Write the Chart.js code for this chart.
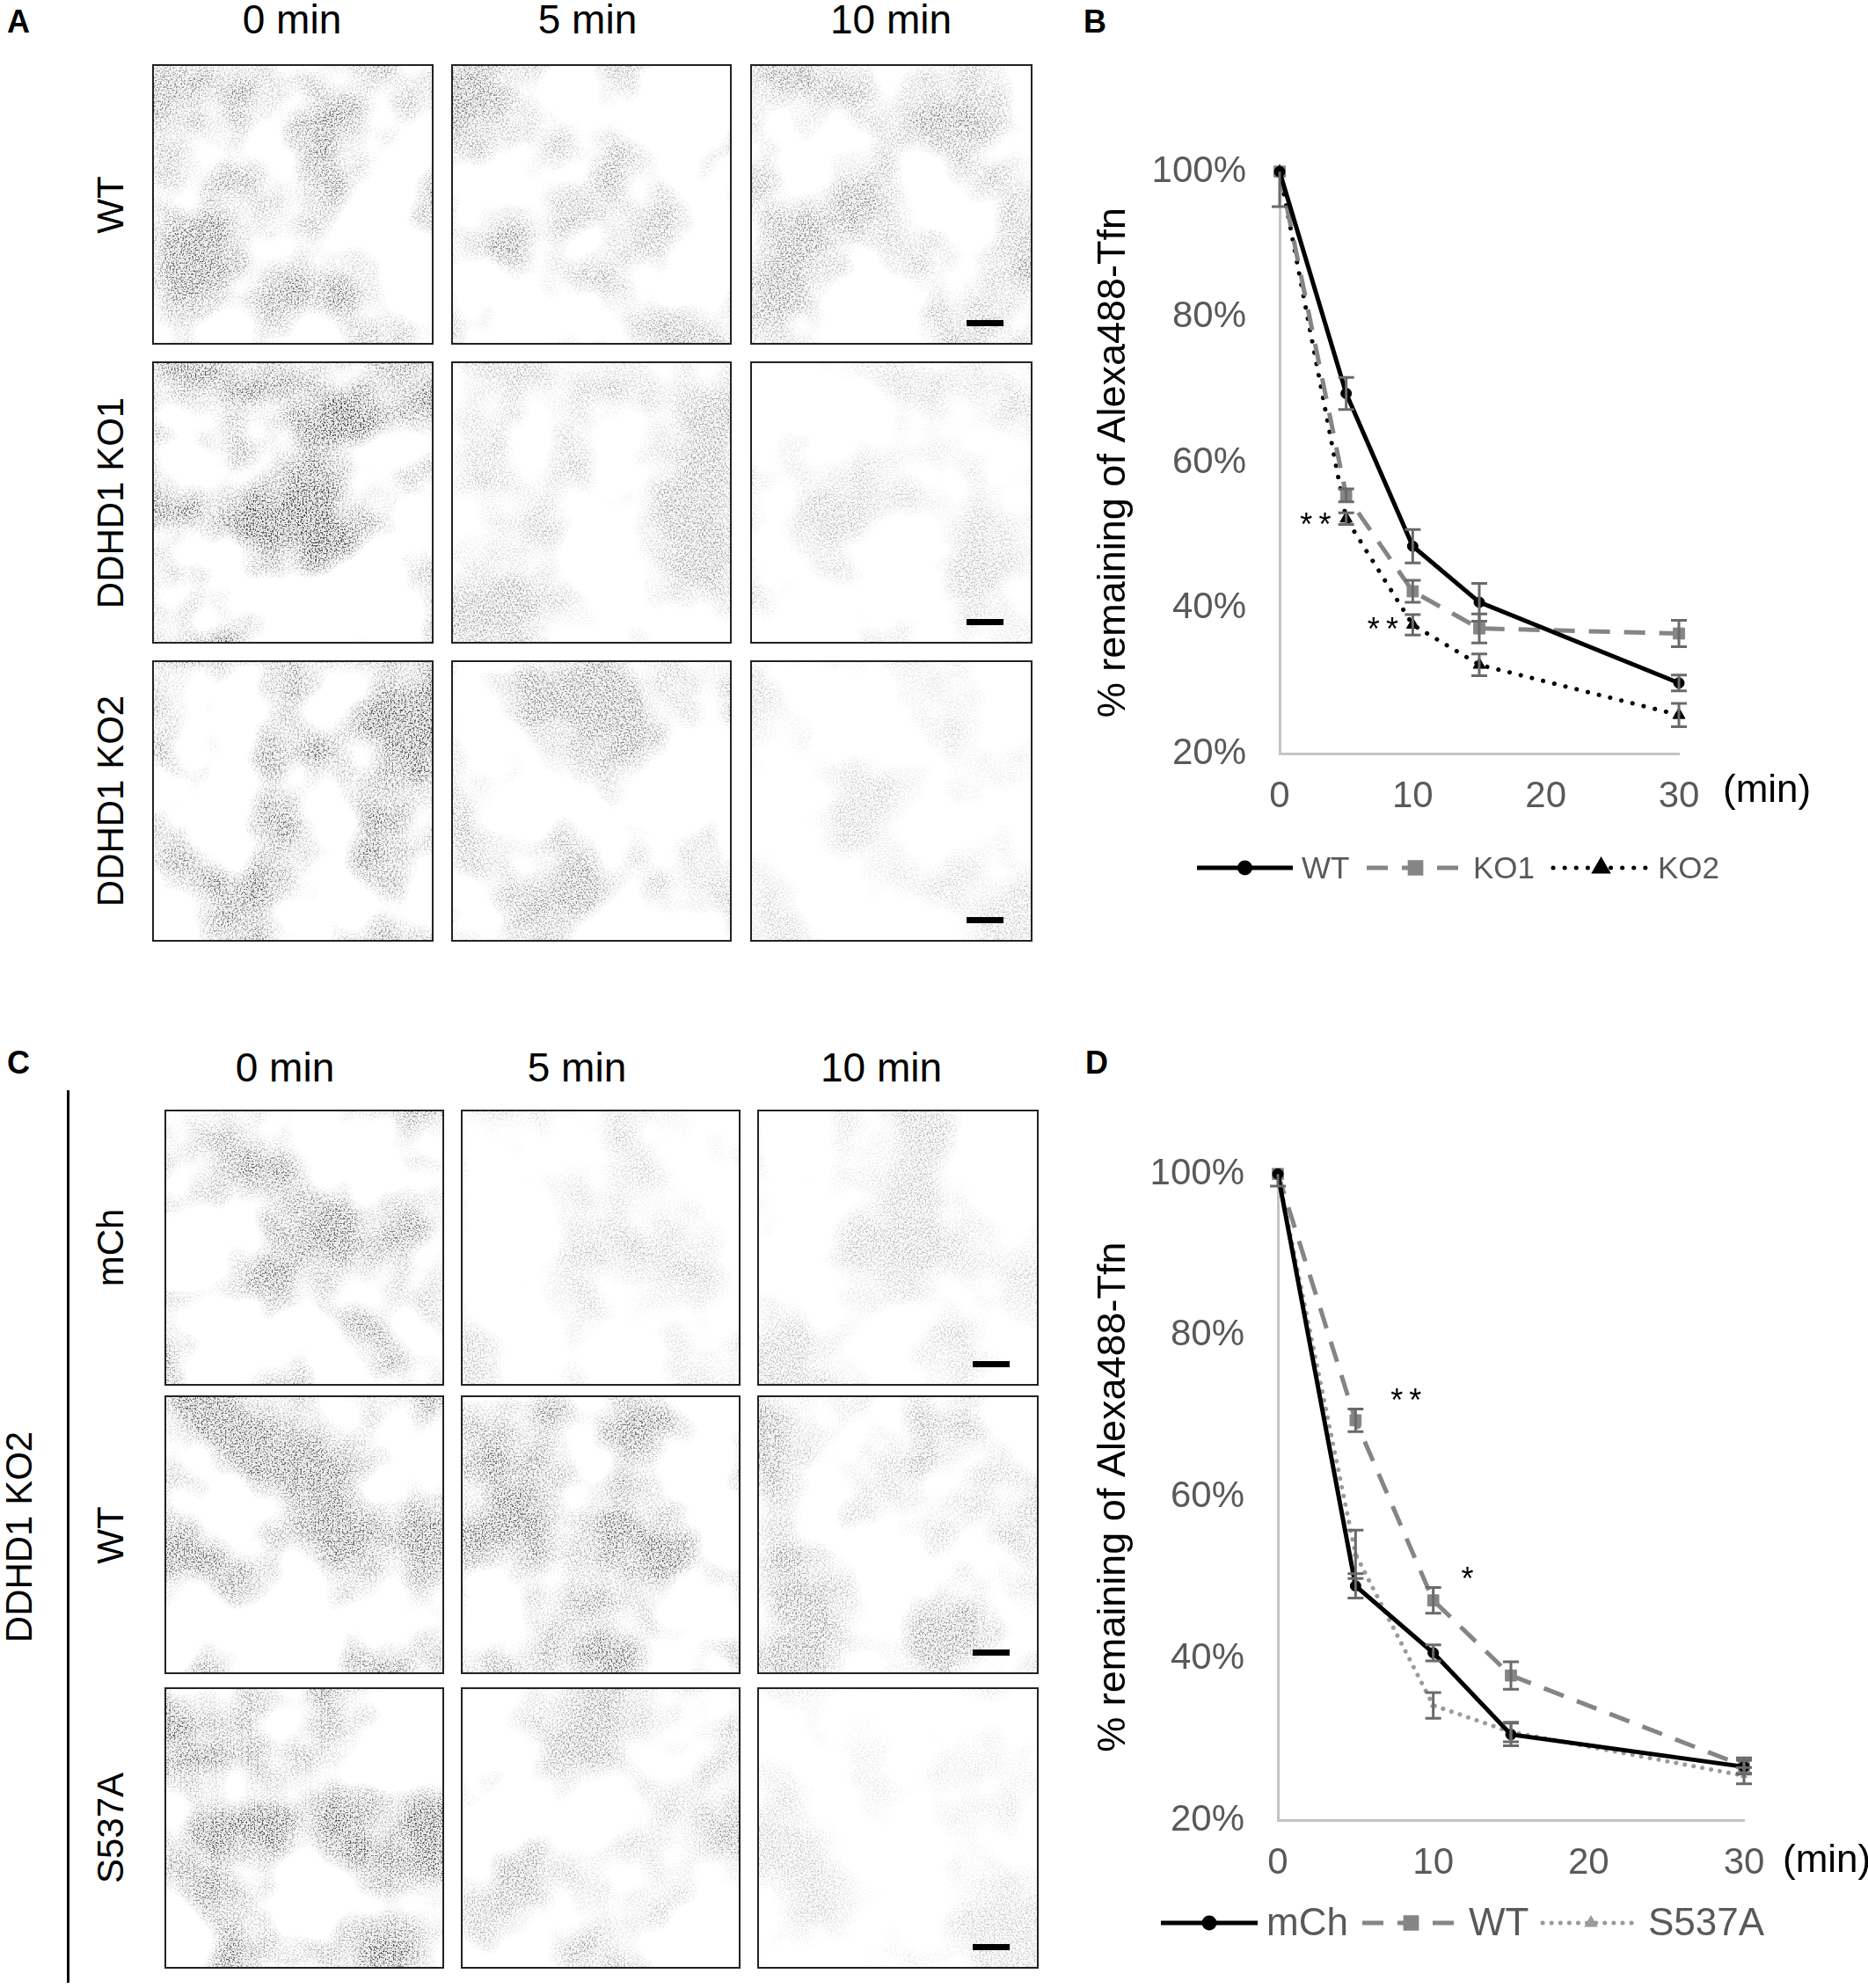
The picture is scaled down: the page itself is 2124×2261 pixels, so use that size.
<!DOCTYPE html>
<html>
<head>
<meta charset="utf-8">
<script src="https://cdn.jsdelivr.net/npm/chart.js@4.4.1/dist/chart.umd.min.js"></script>
<style>
  html, body { margin: 0; padding: 0; background: #fff; }
  body { width: 2124px; height: 2261px; position: relative; overflow: hidden;
         font-family: "Liberation Sans", Arial, Helvetica, sans-serif; color: #000; }
  .abs { position: absolute; }
  .letter { font-weight: bold; font-size: 36px; }
  .head { font-size: 46px; transform: translate(-50%, -50%); white-space: nowrap; }
  .rowlab { font-size: 42px; white-space: nowrap; transform: translate(-50%, -50%) rotate(-90deg); }
  .frame { border: 2px solid #222; overflow: hidden; background: #fff; box-sizing: border-box; }
  .bar { background: #000; width: 42px; height: 7px; }
  canvas { position: absolute; }
</style>
</head>
<body>

<div class="abs letter" style="left:8px;top:4px">A</div>
<div class="abs letter" style="left:1232px;top:4px">B</div>
<div class="abs letter" style="left:8px;top:1188px">C</div>
<div class="abs letter" style="left:1234px;top:1188px">D</div>

<div id="figA"></div>
<div id="figC"></div>

<canvas id="chartB" width="884" height="880" style="left:1240px;top:140px;width:884px;height:880px"></canvas>
<canvas id="chartD" width="884" height="981" style="left:1240px;top:1280px;width:884px;height:981px"></canvas>

<script>
// ---- data: time points (min) ----
const timeMin = [0, 5, 10, 15, 30];

// panel B: % remaining of Alexa488-Tfn
const wtB = [100, 69.5, 48.5, 40.8, 29.7];
const wtBErr = [0, 2.2, 2.3, 2.6, 1.1];
const ko1B = [100, 55.5, 42.3, 37.2, 36.5];
const ko1BErr = [4.8, 0.9, 1.5, 2.0, 1.8];
const ko2B = [100, 52.3, 37.7, 32.2, 25.3];
const ko2BErr = [0, 0.8, 1.4, 1.5, 1.6];

// panel D: rescue in DDHD1 KO2
const mChD = [100, 49.0, 40.7, 30.6, 26.6];
const mChDErr = [0, 1.5, 1.0, 1.4, 0.8];
const wtD = [100, 69.5, 47.2, 37.9, 26.7];
const wtDErr = [1.5, 1.4, 1.6, 1.7, 1.0];
const s537aD = [100, 52.9, 34.2, 30.9, 25.5];
const s537aDErr = [0, 3.0, 1.6, 1.2, 1.0];

// significance marks (x in min, y in %)
const starsB = [{x: 2.7, y: 51.2, t: '**'}, {x: 7.75, y: 36.8, t: '**'}];
const starsD = [{x: 8.25, y: 71.7, t: '**'}, {x: 12.2, y: 49.6, t: '*'}];

// axis ticks
const yTicks = [20, 40, 60, 80, 100];
const xTicks = [0, 10, 20, 30];

// image panel labels
const timeHeads = ['0 min', '5 min', '10 min'];
const rowsA = ['WT', 'DDHD1 KO1', 'DDHD1 KO2'];
const rowsC = ['mCh', 'WT', 'S537A'];

// ---- micrograph placeholders (decorative texture only) ----
let fid = 0;
function frame(parent, x0, y0, x1, y1, shade, bar) {
  const w = x1 - x0, h = y1 - y0;
  const id = fid++;
  const d = document.createElement('div');
  d.className = 'abs frame';
  d.style.cssText = `left:${x0}px;top:${y0}px;width:${w}px;height:${h}px`;
  d.innerHTML = `<svg width="${w}" height="${h}" xmlns="http://www.w3.org/2000/svg">
    <filter id="f${id}" x="0" y="0" width="100%" height="100%" color-interpolation-filters="sRGB">
      <feTurbulence type="fractalNoise" baseFrequency="0.009" numOctaves="3" seed="${id * 3 + 1}" result="t1"/>
      <feColorMatrix in="t1" type="matrix" values="0 0 0 0 0  0 0 0 0 0  0 0 0 0 0  4 0 0 0 -1.75" result="cells"/>
      <feTurbulence type="fractalNoise" baseFrequency="0.55" numOctaves="2" seed="${id * 5 + 2}" result="t2"/>
      <feColorMatrix in="t2" type="matrix" values="0 0 0 0 0  0 0 0 0 0  0 0 0 0 0  6 0 0 0 -3.0" result="grain"/>
      <feComposite in="cells" in2="grain" operator="arithmetic" k1="0.85" k2="0.1" k3="0" k4="0"/>
    </filter>
    <rect width="100%" height="100%" fill="#000" filter="url(#f${id})" opacity="${shade}"/>
  </svg>`;
  parent.appendChild(d);
  if (bar) {
    const b = document.createElement('div');
    b.className = 'abs bar';
    b.style.left = (x1 - 75) + 'px';
    b.style.top = (y1 - 28) + 'px';
    parent.appendChild(b);
  }
}
function label(parent, cls, text, x, y) {
  const d = document.createElement('div');
  d.className = 'abs ' + cls;
  d.textContent = text;
  d.style.left = x + 'px';
  d.style.top = y + 'px';
  parent.appendChild(d);
}

// panel A
const figA = document.getElementById('figA');
const colsA = [[173, 493], [513, 832], [853, 1174]];
const rowYA = [[73, 392], [411, 732], [751, 1071]];
const shadeA = [[0.6, 0.5, 0.45], [0.75, 0.35, 0.25], [0.7, 0.45, 0.2]];
timeHeads.forEach((t, i) => label(figA, 'head', t, [332, 668, 1013][i], 22));
rowsA.forEach((r, j) => {
  label(figA, 'rowlab', r, 126, (rowYA[j][0] + rowYA[j][1]) / 2);
  colsA.forEach((c, i) => frame(figA, c[0], rowYA[j][0], c[1], rowYA[j][1], shadeA[j][i], i === 2));
});

// panel C
const figC = document.getElementById('figC');
const colsC = [[187, 505], [524, 842], [861, 1181]];
const rowYC = [[1262, 1576], [1587, 1904], [1919, 2239]];
const shadeC = [[0.6, 0.25, 0.25], [0.6, 0.6, 0.4], [0.7, 0.4, 0.2]];
timeHeads.forEach((t, i) => label(figC, 'head', t, [324, 656, 1002][i], 1214));
rowsC.forEach((r, j) => {
  label(figC, 'rowlab', r, 126, (rowYC[j][0] + rowYC[j][1]) / 2);
  colsC.forEach((c, i) => frame(figC, c[0], rowYC[j][0], c[1], rowYC[j][1], shadeC[j][i], i === 2));
});
label(figC, 'rowlab', 'DDHD1 KO2', 22, 1748);
const vline = document.createElement('div');
vline.className = 'abs';
vline.style.cssText = 'left:76px;top:1240px;width:3px;height:1015px;background:#000';
figC.appendChild(vline);

// ---- charts ----
const FONT = '"Liberation Sans", Arial, Helvetica, sans-serif';
const TICK = '#595959';

// error bars from each dataset's `errors`
const errorBarPlugin = {
  id: 'errorBars',
  afterDatasetsDraw(chart) {
    const {ctx, chartArea, scales: {x, y}} = chart;
    ctx.save();
    ctx.beginPath();
    ctx.rect(chartArea.left - 20, chartArea.top, chartArea.width + 40, chartArea.height);
    ctx.clip();
    ctx.strokeStyle = '#6a6a6a';
    ctx.lineWidth = 3;
    ctx.setLineDash([]);
    chart.data.datasets.forEach(ds => {
      (ds.errors || []).forEach((e, i) => {
        if (!e) return;
        const px = x.getPixelForValue(ds.data[i].x);
        const top = y.getPixelForValue(ds.data[i].y + e);
        const bot = y.getPixelForValue(ds.data[i].y - e);
        ctx.beginPath();
        ctx.moveTo(px, top); ctx.lineTo(px, bot);
        ctx.moveTo(px - 9, top); ctx.lineTo(px + 9, top);
        ctx.moveTo(px - 9, bot); ctx.lineTo(px + 9, bot);
        ctx.stroke();
      });
    });
    ctx.restore();
  }
};

// stars and custom legend / unit label
const decoPlugin = {
  id: 'deco',
  afterDraw(chart, args, opts) {
    const {ctx, scales: {x, y}} = chart;
    ctx.save();
    ctx.fillStyle = '#000';
    ctx.font = `36px ${FONT}`;
    ctx.textAlign = 'center';
    ctx.textBaseline = 'middle';
    (opts.stars || []).forEach(s => {
      ctx.fillText(s.t.split('').join('\u2009'), x.getPixelForValue(s.x), y.getPixelForValue(s.y));
    });
    // unit label
    ctx.font = `44px ${FONT}`;
    ctx.textAlign = 'left';
    ctx.fillText('(min)', opts.unitX, opts.unitY);
    // legend
    ctx.font = `${opts.legendFont}px ${FONT}`;
    chart.data.datasets.forEach((ds, i) => {
      const it = opts.legend[i];
      ctx.strokeStyle = ds.borderColor;
      ctx.lineWidth = ds.borderWidth;
      ctx.lineCap = ds.borderCapStyle || 'butt';
      ctx.setLineDash(ds.borderDash || []);
      ctx.beginPath();
      ctx.moveTo(it.x0, opts.legendY);
      ctx.lineTo(it.x1, opts.legendY);
      ctx.stroke();
      ctx.setLineDash([]);
      ctx.fillStyle = ds.pointBackgroundColor;
      ctx.strokeStyle = ds.pointBorderColor;
      Chart.helpers.drawPoint(ctx, {
        pointStyle: ds.pointStyle, radius: ds.pointRadius, rotation: 0, borderWidth: 1
      }, (it.x0 + it.x1) / 2, opts.legendY);
      ctx.fillStyle = TICK;
      ctx.fillText(ds.label, it.x1 + 10, opts.legendY + 2);
    });
    ctx.restore();
  }
};

function series(label, values, errors, style) {
  return Object.assign({
    label,
    data: timeMin.map((t, i) => ({x: t, y: values[i]})),
    errors,
    tension: 0,
    clip: false,
    pointBorderWidth: 1
  }, style);
}

const solidBlack = () => ({borderColor: '#000', backgroundColor: '#000', pointBackgroundColor: '#000',
  pointBorderColor: '#000', borderWidth: 5, pointStyle: 'circle', pointRadius: 6});
const dashGray = () => ({borderColor: '#858585', backgroundColor: '#858585', pointBackgroundColor: '#858585',
  pointBorderColor: '#858585', borderWidth: 5, borderDash: [24, 16], pointStyle: 'rect', pointRadius: 9});

function makeChart(id, datasets, geo, deco) {
  return new Chart(document.getElementById(id), {
    type: 'line',
    data: {datasets},
    plugins: [errorBarPlugin, decoPlugin],
    options: {
      responsive: false,
      animation: false,
      devicePixelRatio: 1,
      layout: {padding: {left: 0, top: geo.top, right: geo.right, bottom: 0}},
      plugins: {legend: {display: false}, tooltip: {enabled: false}, deco},
      scales: {
        x: {
          type: 'linear', min: 0, max: 30,
          afterBuildTicks: s => { s.ticks = xTicks.map(v => ({value: v})); },
          afterFit: s => { s.height = geo.xh; },
          grid: {display: false},
          border: {display: true, color: '#c4c4c4', width: 3},
          ticks: {color: TICK, font: {family: FONT, size: 42}, padding: 16, maxRotation: 0}
        },
        y: {
          min: 20, max: 100,
          afterBuildTicks: s => { s.ticks = yTicks.map(v => ({value: v})); },
          afterFit: s => { s.width = geo.yw; },
          grid: {display: false},
          border: {display: true, color: '#c4c4c4', width: 3},
          ticks: {color: TICK, font: {family: FONT, size: 42}, padding: 30, callback: v => v + '%'},
          title: {display: true, text: '% remaining of Alexa488-Tfn', color: '#000',
                  font: {family: FONT, size: 45}, padding: 0}
        }
      }
    }
  });
}

makeChart('chartB', [
  series('WT', wtB, wtBErr, solidBlack()),
  series('KO1', ko1B, ko1BErr, dashGray()),
  series('KO2', ko2B, ko2BErr, {borderColor: '#000', backgroundColor: '#000', pointBackgroundColor: '#000',
    pointBorderColor: '#000', borderWidth: 5, borderDash: [0.1, 13], borderCapStyle: 'round',
    pointStyle: 'triangle', pointRadius: 8})
], {top: 43, right: 215, xh: 163, yw: 215}, {
  stars: starsB, unitX: 719, unitY: 760, legendY: 847, legendFont: 35,
  legend: [{x0: 121, x1: 230}, {x0: 314, x1: 425}, {x0: 526, x1: 635}]
});

makeChart('chartD', [
  series('mCh', mChD, mChDErr, solidBlack()),
  series('WT', wtD, wtDErr, dashGray()),
  series('S537A', s537aD, s537aDErr, {borderColor: '#9a9a9a', backgroundColor: '#9a9a9a',
    pointBackgroundColor: '#9a9a9a', pointBorderColor: '#9a9a9a', borderWidth: 5,
    borderDash: [0.1, 10], borderCapStyle: 'round', pointStyle: 'triangle', pointRadius: 4})
], {top: 41, right: 141, xh: 191, yw: 213}, {
  stars: starsD, unitX: 787, unitY: 837, legendY: 907, legendFont: 44,
  legend: [{x0: 80, x1: 190}, {x0: 309, x1: 420}, {x0: 514, x1: 624}]
});
</script>
</body>
</html>
